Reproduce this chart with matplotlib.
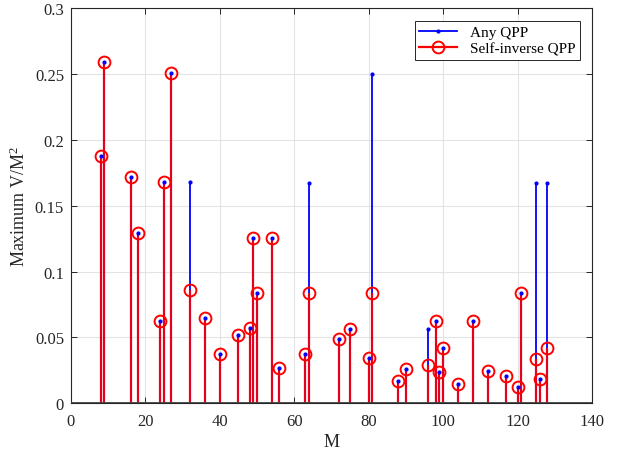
import matplotlib
matplotlib.use("Agg")
import matplotlib.pyplot as plt
from matplotlib.lines import Line2D

# Interleaver lengths M and the maximum V/M^2 found for each
M = [8, 9, 16, 18, 24, 25, 27, 32, 36, 40, 45, 48, 49, 50, 54, 56, 63, 64,
     72, 75, 80, 81, 88, 90, 96, 98, 99, 100, 104, 108, 112, 117, 120, 121,
     125, 126, 128]

any_qpp = [0.1875, 0.2593, 0.1719, 0.1296, 0.0625, 0.168, 0.2510, 0.168,
           0.0648, 0.0375, 0.0519, 0.0573, 0.1254, 0.0840, 0.1255, 0.0265,
           0.0373, 0.1672, 0.0486, 0.0560, 0.0344, 0.2500, 0.0170, 0.0259,
           0.0564, 0.0627, 0.0234, 0.0420, 0.0148, 0.0627, 0.0245, 0.0203,
           0.0125, 0.0834, 0.1670, 0.0186, 0.1672]

self_inverse_qpp = [0.1875, 0.2593, 0.1719, 0.1296, 0.0625, 0.168, 0.2510,
                    0.0859, 0.0648, 0.0375, 0.0519, 0.0573, 0.1254, 0.0840,
                    0.1255, 0.0265, 0.0373, 0.0840, 0.0486, 0.0560, 0.0344,
                    0.0837, 0.0170, 0.0259, 0.0289, 0.0627, 0.0234, 0.0420,
                    0.0148, 0.0627, 0.0245, 0.0203, 0.0125, 0.0834, 0.0336,
                    0.0186, 0.0420]

x_ticks = [0, 20, 40, 60, 80, 100, 120, 140]
y_ticks = [0, 0.05, 0.1, 0.15, 0.2, 0.25, 0.3]
y_tick_labels = ["0", "0.05", "0.1", "0.15", "0.2", "0.25", "0.3"]

plt.rcParams["font.family"] = ["Liberation Serif", "DejaVu Serif"]
plt.rcParams["font.size"] = 12
plt.rcParams["mathtext.fontset"] = "custom"
plt.rcParams["mathtext.rm"] = "Liberation Serif"
plt.rcParams["mathtext.it"] = "Liberation Serif"
plt.rcParams["mathtext.default"] = "rm"

fig = plt.figure(figsize=(6.21, 4.52), dpi=100)
ax = fig.add_axes([0.1143, 0.106, 0.839, 0.873])

blue = "#0000ff"
red = "#ff0000"

ml, sl, bl = ax.stem(M, any_qpp, linefmt="-", markerfmt=".", basefmt=" ")
sl.set_color(blue)
sl.set_linewidth(1.3)
ml.set_color(blue)
ml.set_markersize(4)
ml.set_zorder(4)

ml2, sl2, bl2 = ax.stem(M, self_inverse_qpp, linefmt="-", markerfmt="o", basefmt=" ")
sl2.set_color(red)
sl2.set_linewidth(1.6)
sl2.set_alpha(0.88)
ml2.set_markerfacecolor("none")
ml2.set_markeredgecolor(red)
ml2.set_markeredgewidth(1.4)
ml2.set_markersize(8.5)
ml2.set_zorder(5)

ax.axhline(0, color="#404040", lw=1.3, zorder=6)

ax.set_xlim(0, 140)
ax.set_ylim(0, 0.3)
ax.set_xticks(x_ticks)
ax.set_yticks(y_ticks)
ax.set_yticklabels(y_tick_labels)
ax.grid(True, color="#e3e3e3", lw=0.8)
ax.set_axisbelow(True)
ax.tick_params(direction="in", top=True, right=True, length=4, width=0.7,
               colors="#262626", labelsize=12)
ax.tick_params(axis="x", pad=7)
ax.tick_params(axis="y", pad=5)
for s in ax.spines.values():
    s.set_color("#262626")
    s.set_linewidth(0.8)

ax.set_xlabel("M", fontsize=13, color="#262626", labelpad=3)
ax.set_ylabel("Maximum V/M$^{2}$", fontsize=13, color="#262626", labelpad=4)

handles = [
    Line2D([], [], color=blue, lw=1.3, marker=".", markersize=4),
    Line2D([], [], color=red, lw=1.6, marker="o", markerfacecolor="none",
           markeredgecolor=red, markersize=8.5, markeredgewidth=1.4),
]
leg = ax.legend(handles, ["Any QPP", "Self-inverse QPP"], loc="upper right",
                fancybox=False, framealpha=1, edgecolor="#262626",
                fontsize=11, borderaxespad=0.8, handlelength=2.5,
                borderpad=0.3, labelspacing=0.2)
leg.get_frame().set_linewidth(0.7)

fig.savefig("out.png", dpi=100)
